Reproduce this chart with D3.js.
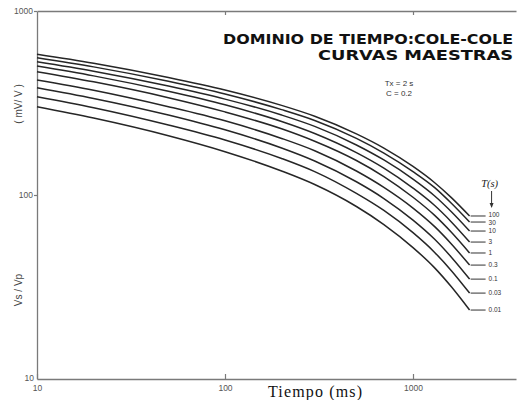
<!DOCTYPE html>
<html><head><meta charset="utf-8">
<script src="https://cdn.jsdelivr.net/npm/d3@7"></script>
<style>body{margin:0;background:#fff}svg{display:block}</style>
</head><body>
<svg id="c" width="517" height="400"></svg>
<script>
// ---- data ----
const times = [10, 20, 50, 100, 200, 300, 500, 700, 1000, 1300, 1600, 2000]; // ms
const tauLabels = ["100", "30", "10", "3", "1", "0.3", "0.1", "0.03", "0.01"];
const tau100  = [582, 520, 435, 372, 307, 268, 215, 180, 143, 117, 96.8, 76.9];
const tau30   = [557, 497, 415, 354, 291, 254, 203, 169, 134, 110, 90.2, 71.3];
const tau10   = [530, 471, 391, 332, 272, 236, 187, 155, 122, 99.1, 81.1, 63.7];
const tau3    = [502, 444, 366, 309, 251, 216, 170, 140, 109, 87.9, 71.4, 55.5];
const tau1    = [468, 412, 338, 283, 229, 196, 154, 126, 97.2, 77.7, 62.7, 48.4];
const tau03   = [422, 371, 302, 253, 203, 174, 135, 110, 84.9, 67.5, 54.2, 41.6];
const tau01   = [383, 335, 272, 226, 180, 153, 118, 95.7, 73.0, 57.6, 45.9, 34.9];
const tau003  = [342, 298, 240, 199, 158, 134, 102, 82.4, 62.4, 48.9, 38.8, 29.3];
const tau001  = [302, 262, 210, 172, 135, 114, 86.6, 69.1, 51.8, 40.3, 31.7, 23.7];
const xTicks = [10, 100, 1000];
const yTicks = [10, 100, 1000];
const titleLines = ["DOMINIO DE TIEMPO:COLE-COLE", "CURVAS MAESTRAS"];
const paramLines = ["Tx = 2 s", "C = 0.2"];

const series = [tau100, tau30, tau10, tau3, tau1, tau03, tau01, tau003, tau001];

const svg = d3.select("#c");
const L = 37, R = 516, T = 11, B = 379;
// x: 10 -> 37, 1000 -> 413 (188 px / decade)
const xMax = Math.pow(10, 1 + (R - L) / 188);
const x = d3.scaleLog().domain([10, xMax]).range([L, R]);
const y = d3.scaleLog().domain([10, 1000]).range([B, T]);

const axisCol = "#7a7a7a";
const tickFont = "'Liberation Sans', Arial, sans-serif";

// bottom axis (ticks inward)
const gx = svg.append("g").attr("transform", `translate(0,${B})`)
  .call(d3.axisBottom(x).tickValues(xTicks).tickSizeInner(-5).tickSizeOuter(0).tickFormat(d3.format("d")));
gx.select(".domain").attr("stroke", axisCol).attr("stroke-width", 1.3);
gx.selectAll(".tick line").attr("stroke", axisCol).attr("stroke-width", 1.2);
gx.selectAll(".tick text").attr("y", 6).attr("font-size", 8.5).attr("font-family", tickFont).attr("fill", "#555");

// top axis line with inward ticks
const gt = svg.append("g").attr("transform", `translate(0,${T})`)
  .call(d3.axisTop(x).tickValues([100, 1000]).tickSizeInner(-4).tickSizeOuter(0).tickFormat(""));
gt.select(".domain").attr("stroke", axisCol).attr("stroke-width", 1.3);
gt.selectAll(".tick line").attr("stroke", axisCol).attr("stroke-width", 1.2);

// left axis (ticks outward)
const gy = svg.append("g").attr("transform", `translate(${L},0)`)
  .call(d3.axisLeft(y).tickValues(yTicks).tickSizeInner(3).tickSizeOuter(0).tickPadding(1).tickFormat(d3.format("d")));
gy.select(".domain").attr("stroke", axisCol).attr("stroke-width", 1.3);
gy.selectAll(".tick line").attr("stroke", axisCol).attr("stroke-width", 1.2);
gy.selectAll(".tick text").attr("font-size", 8.5).attr("font-family", tickFont).attr("fill", "#555");
gy.selectAll(".tick").filter(d => d === 10).select("line").remove();
gy.selectAll(".tick").filter(d => d === 10).select("text").attr("x", -3).attr("dy", "0.15em");

// curves
const labelNudge = [-1.2, 0.8, 0.3, 0, 0, 0, 0, 0, 0];
const line = d3.line().x(d => x(d[0])).y(d => y(d[1])).curve(d3.curveMonotoneX);
series.forEach((vals, i) => {
  const pts = times.map((t, k) => [t, vals[k]]);
  svg.append("path").attr("d", line(pts)).attr("fill", "none")
    .attr("stroke", "#262626").attr("stroke-width", 1.5);
  const tEnd = times[times.length - 1];
  const yEnd = y(vals[vals.length - 1]);
  svg.append("line").attr("x1", x(tEnd) + 1).attr("x2", x(tEnd) + 16)
    .attr("y1", yEnd).attr("y2", yEnd).attr("stroke", "#444").attr("stroke-width", 1.1);
  svg.append("text").attr("x", x(tEnd) + 19).attr("y", yEnd + labelNudge[i]).attr("dy", "0.33em")
    .attr("font-size", 6.5).attr("font-family", tickFont).attr("fill", "#333").text(tauLabels[i]);
});

// tau legend header and arrow
const ax = x(2000) + 22;
svg.append("text").attr("x", ax - 2).attr("y", 187).attr("text-anchor", "middle")
  .attr("font-family", "'Liberation Serif', serif").attr("font-style", "italic")
  .attr("font-size", 10.5).attr("fill", "#222").text("T(s)");
svg.append("line").attr("x1", ax).attr("x2", ax).attr("y1", 191).attr("y2", 207)
  .attr("stroke", "#333").attr("stroke-width", 1);
svg.append("path").attr("d", `M${ax - 2},203 L${ax},208 L${ax + 2},203 Z`).attr("fill", "#333");

// title
const titleFont = "'DejaVu Sans', 'Liberation Sans', Arial, sans-serif";
svg.append("text").attr("x", 513).attr("y", 44).attr("text-anchor", "end")
  .attr("font-family", titleFont).attr("font-weight", "bold")
  .attr("font-size", 14).attr("fill", "#111")
  .attr("textLength", 290).attr("lengthAdjust", "spacingAndGlyphs").text(titleLines[0]);
svg.append("text").attr("x", 513).attr("y", 60).attr("text-anchor", "end")
  .attr("font-family", titleFont).attr("font-weight", "bold")
  .attr("font-size", 14).attr("fill", "#111")
  .attr("textLength", 195).attr("lengthAdjust", "spacingAndGlyphs").text(titleLines[1]);

// params
paramLines.forEach((s, i) => {
  svg.append("text").attr("x", 399).attr("y", 86 + i * 10).attr("text-anchor", "middle")
    .attr("font-family", tickFont).attr("font-size", 8).attr("fill", "#333").text(s);
});

// axis titles
svg.append("text").attr("x", 315).attr("y", 397).attr("text-anchor", "middle")
  .attr("font-family", "'Liberation Serif', 'Times New Roman', serif")
  .attr("font-size", 16).attr("fill", "#111")
  .attr("textLength", 94).attr("lengthAdjust", "spacing").text("Tiempo (ms)");
svg.append("text").attr("transform", "translate(22,104) rotate(-90)").attr("text-anchor", "middle")
  .attr("font-family", tickFont).attr("font-size", 10).attr("fill", "#444").text("( mV/ V )");
svg.append("text").attr("transform", "translate(22,290) rotate(-90)").attr("text-anchor", "middle")
  .attr("font-family", tickFont).attr("font-size", 10).attr("fill", "#444").text("Vs / Vp");
</script>
</body></html>
